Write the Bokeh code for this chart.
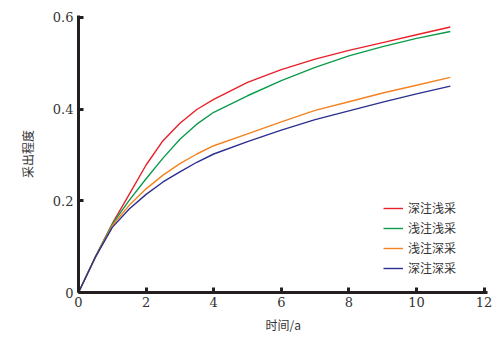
from bokeh.plotting import figure
from bokeh.models import Range1d, FixedTicker, Legend, LegendItem
from bokeh.embed import file_html
from bokeh.resources import INLINE

years = [0, 0.5, 1, 1.5, 2, 2.5, 3, 3.5, 4, 5, 6, 7, 8, 9, 10, 11]
deep_inj_shallow_prod = [0, 0.078, 0.150, 0.214, 0.278, 0.331, 0.369, 0.399, 0.421, 0.458, 0.486, 0.509, 0.528, 0.545, 0.562, 0.579]
shallow_inj_shallow_prod = [0, 0.078, 0.149, 0.201, 0.248, 0.293, 0.334, 0.367, 0.393, 0.429, 0.462, 0.491, 0.516, 0.536, 0.554, 0.569]
shallow_inj_deep_prod = [0, 0.077, 0.146, 0.190, 0.226, 0.256, 0.281, 0.302, 0.320, 0.346, 0.372, 0.397, 0.416, 0.435, 0.452, 0.469]
deep_inj_deep_prod = [0, 0.077, 0.142, 0.182, 0.214, 0.241, 0.263, 0.284, 0.302, 0.329, 0.354, 0.377, 0.396, 0.415, 0.433, 0.450]

series_names = ["深注浅采", "浅注浅采", "浅注深采", "深注深采"]
series_values = [deep_inj_shallow_prod, shallow_inj_shallow_prod, shallow_inj_deep_prod, deep_inj_deep_prod]
colors = ["#e8202a", "#0b9b4b", "#f58220", "#2b2f8f"]

x_ticks = [0, 2, 4, 6, 8, 10, 12]
y_ticks = [0, 0.2, 0.4, 0.6]
y_tick_labels = {0: "0", 0.2: "0.2", 0.4: "0.4", 0.6: "0.6"}

p = figure(width=499, height=339, output_backend="svg", toolbar_location=None,
           x_range=Range1d(0, 12.1), y_range=Range1d(0, 0.604),
           min_border_left=78, min_border_right=12, min_border_top=15, min_border_bottom=47)
p.outline_line_color = None
p.grid.visible = False
p.background_fill_color = "white"

items = []
for name, vals, c in zip(series_names, series_values, colors):
    r = p.line(years, vals, line_color=c, line_width=1.4, line_join="round")
    items.append(LegendItem(label=name, renderers=[r]))

for ax in (p.xaxis[0], p.yaxis[0]):
    ax.axis_line_width = 3
    ax.axis_line_color = "#231f20"
    ax.major_tick_line_width = 3
    ax.major_tick_line_color = "#231f20"
    ax.major_tick_in = 5
    ax.major_tick_out = 0
    ax.minor_tick_line_color = None
    ax.major_label_text_font = "DejaVu Serif"
    ax.major_label_text_font_size = "13px"
    ax.major_label_text_color = "#333333"
    ax.axis_label_text_font = "Noto Sans CJK SC"
    ax.axis_label_text_font_size = "12px"
    ax.axis_label_text_font_style = "normal"
    ax.axis_label_text_color = "#333333"

p.xaxis.ticker = FixedTicker(ticks=x_ticks)
p.yaxis.ticker = FixedTicker(ticks=y_ticks)
p.yaxis.major_label_overrides = y_tick_labels
p.xaxis.axis_label = "时间/a"
p.yaxis.axis_label = "采出程度"
p.xaxis.major_label_standoff = 4
p.yaxis.major_label_standoff = 5
p.xaxis.axis_label_standoff = 6
p.yaxis.axis_label_standoff = 14

legend = Legend(items=items, location=(305, 16))
legend.border_line_color = None
legend.background_fill_alpha = 0
legend.padding = 0
legend.margin = 0
legend.spacing = 3
legend.label_height = 16
legend.glyph_height = 16
legend.glyph_width = 20
legend.label_standoff = 5
legend.label_text_font = "Noto Sans CJK SC"
legend.label_text_font_size = "12px"
legend.label_text_color = "#333333"
p.add_layout(legend)

open("out.html", "w").write(file_html(p, INLINE))
